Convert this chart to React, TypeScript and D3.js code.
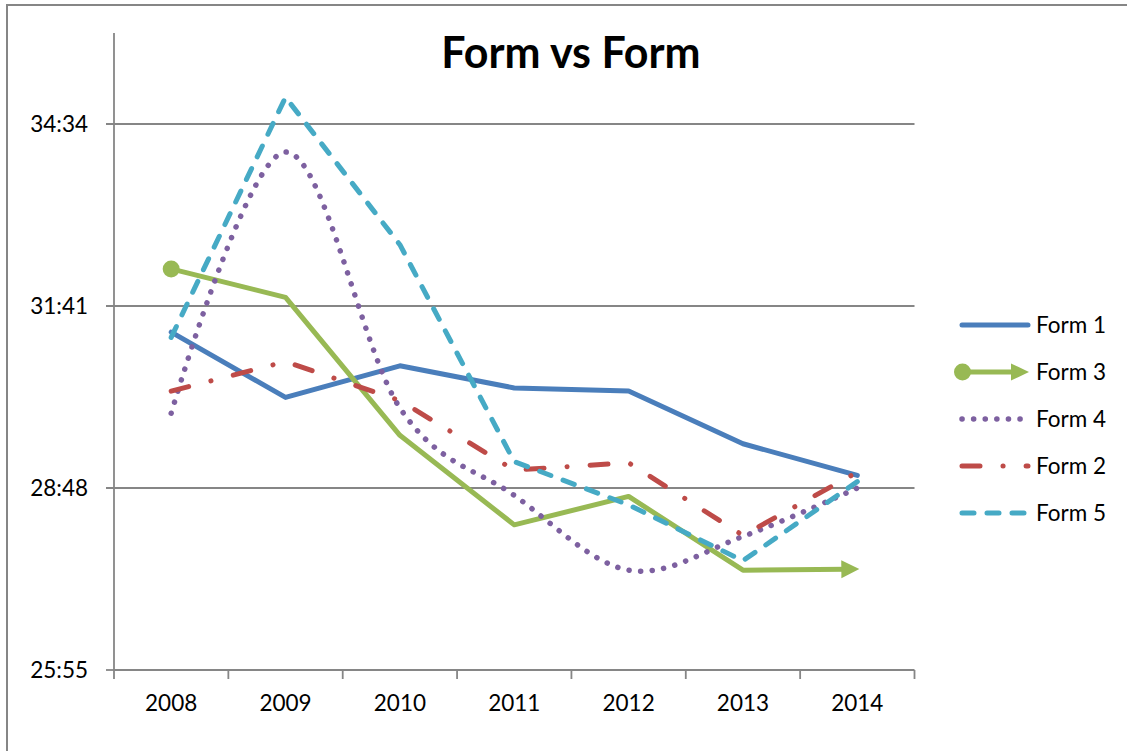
import * as d3 from 'd3';
import React, { useEffect, useRef } from 'react';

const years = ['2008', '2009', '2010', '2011', '2012', '2013', '2014'];

// finishing times (mm:ss)
const form1 = ['31:16', '30:14', '30:44', '30:23', '30:20', '29:30', '29:00'];
const form3 = ['32:16', '31:49', '29:38', '28:13', '28:40', '27:30', '27:31'];
const form4 = ['29:59', '34:07', '30:04', '28:41', '27:30', '28:02', '28:48'];
const form2 = ['30:20', '30:48', '30:11', '29:05', '29:12', '28:03', '29:03'];
const form5 = ['31:11', '34:59', '32:39', '29:13', '28:32', '27:39', '28:54'];

const seriesNames = ['Form 1', 'Form 3', 'Form 4', 'Form 2', 'Form 5'];
const seriesData = [form1, form3, form4, form2, form5];
const seriesColors = ['#4A7EBB', '#98B954', '#7D60A0', '#BE4B48', '#46AAC5'];
const seriesDash = ['', '', '0.1 11.5', '18 23 0.1 23', '12 13'];

// y axis in days (excel time), major unit 0.002
const yTickDays = [0.018, 0.02, 0.022, 0.024];
const yMaxDays = 0.025;

const toSec = (s: string) => {
    const [m, ss] = s.split(':').map(Number);
    return m * 60 + ss;
};
const fmt = (sec: number) => {
    const r = Math.round(sec);
    return `${Math.floor(r / 60)}:${String(r % 60).padStart(2, '0')}`;
};

const FONT = 'Lato, "Open Sans", sans-serif';

const Chart = () => {
    const svgRef = useRef<SVGSVGElement>(null);

    useEffect(() => {
        const svg = d3.select(svgRef.current);
        svg.selectAll('*').remove(); // clear previous render

        const width = 1127;
        const height = 751;
        const left = 114, right = 914.5, top = 33, bottom = 670;
        const lw = 5;
        const axisColor = '#868686';

        const x = d3.scaleBand().domain(years).range([left, right]);
        const cx = (d: string) => (x(d) as number) + x.bandwidth() / 2;
        const y = d3.scaleLinear()
            .domain([yTickDays[0] * 86400, yMaxDays * 86400])
            .range([bottom, top]);

        svg.attr('width', width).attr('height', height);

        // outer chart border
        svg.append('rect')
            .attr('x', 7).attr('y', 5)
            .attr('width', width + 20).attr('height', height + 20)
            .attr('fill', 'white')
            .attr('stroke', axisColor)
            .attr('stroke-width', 2);

        svg.append('text')
            .attr('x', 571).attr('y', 68)
            .attr('text-anchor', 'middle')
            .style('font-family', FONT)
            .style('font-size', '43px')
            .style('font-weight', 'bold')
            .text('Form vs Form');

        // gridlines + y ticks
        const g = svg.append('g');
        yTickDays.forEach((t, i) => {
            const yy = y(t * 86400);
            g.append('line')
                .attr('x1', left - 8).attr('x2', i === 0 ? left : right)
                .attr('y1', yy).attr('y2', yy)
                .attr('stroke', axisColor).attr('stroke-width', 1.8);
            g.append('text')
                .attr('x', 88).attr('y', yy).attr('dy', '0.36em')
                .attr('text-anchor', 'end')
                .style('font-family', FONT).style('font-size', '22.5px')
                .text(fmt(t * 86400));
        });

        // axes
        g.append('line')
            .attr('x1', left).attr('x2', left).attr('y1', top).attr('y2', bottom)
            .attr('stroke', axisColor).attr('stroke-width', 1.8);
        g.append('line')
            .attr('x1', left).attr('x2', right).attr('y1', bottom).attr('y2', bottom)
            .attr('stroke', axisColor).attr('stroke-width', 1.8);
        d3.range(years.length + 1).forEach(i => {
            const xx = left + i * x.step();
            g.append('line')
                .attr('x1', xx).attr('x2', xx).attr('y1', bottom).attr('y2', bottom + 9)
                .attr('stroke', axisColor).attr('stroke-width', 1.8);
        });
        years.forEach(yr => {
            g.append('text')
                .attr('x', cx(yr)).attr('y', 711)
                .attr('text-anchor', 'middle')
                .style('font-family', FONT).style('font-size', '22.5px')
                .text(yr);
        });

        // series
        seriesData.forEach((vals, si) => {
            const pts: [number, number][] = vals.map((v, i) => [cx(years[i]), y(toSec(v))]);
            const color = seriesColors[si];
            let linePts = pts;

            if (si === 1) {
                // arrow at the end, circle at the start
                const P = pts[pts.length - 1];
                const Q = pts[pts.length - 2];
                const len = Math.hypot(P[0] - Q[0], P[1] - Q[1]);
                const ux = (P[0] - Q[0]) / len, uy = (P[1] - Q[1]) / len;
                const tip: [number, number] = [P[0] + ux * 2, P[1] + uy * 2];
                const base: [number, number] = [tip[0] - ux * 18, tip[1] - uy * 18];
                linePts = [...pts.slice(0, -1), [base[0] + ux * 4, base[1] + uy * 4]];
                svg.append('circle')
                    .attr('cx', pts[0][0]).attr('cy', pts[0][1]).attr('r', 8.5)
                    .attr('fill', color);
                svg.append('path')
                    .attr('d', `M${tip[0]},${tip[1]}L${base[0] - uy * 9},${base[1] + ux * 9}L${base[0] + uy * 9},${base[1] - ux * 9}Z`)
                    .attr('fill', color);
            }

            const line = d3.line()
                .curve(si === 2 ? d3.curveCardinal.tension(0) : d3.curveLinear);

            svg.insert('path', si === 1 ? 'circle' : null)
                .attr('d', line(linePts))
                .attr('fill', 'none')
                .attr('stroke', color)
                .attr('stroke-width', si === 2 ? 5.5 : lw)
                .attr('stroke-linecap', 'round')
                .attr('stroke-linejoin', 'round')
                .attr('stroke-dasharray', seriesDash[si] || null);
        });

        // legend
        const lg = svg.append('g');
        seriesNames.forEach((name, i) => {
            const ly = 325 + i * 47;
            const color = seriesColors[i];
            if (i === 1) {
                lg.append('line')
                    .attr('x1', 962).attr('x2', 1014).attr('y1', ly).attr('y2', ly)
                    .attr('stroke', color).attr('stroke-width', lw);
                lg.append('circle').attr('cx', 962.5).attr('cy', ly).attr('r', 8.5).attr('fill', color);
                lg.append('path')
                    .attr('d', `M1029,${ly}L1011,${ly - 8.5}L1011,${ly + 8.5}Z`)
                    .attr('fill', color);
            } else {
                lg.append('line')
                    .attr('x1', 962).attr('x2', 1028).attr('y1', ly).attr('y2', ly)
                    .attr('stroke', color).attr('stroke-width', i === 2 ? 5.5 : lw)
                    .attr('stroke-linecap', 'round')
                    .attr('stroke-dasharray', seriesDash[i] || null);
            }
            lg.append('text')
                .attr('x', 1036).attr('y', ly).attr('dy', '0.36em')
                .style('font-family', FONT).style('font-size', '22.5px')
                .text(name);
        });
    }, []);

    return (
        <svg ref={svgRef} style={{ position: 'absolute', left: 0, top: 0, background: 'white' }}></svg>
    );
};

export default function App() {
    return <Chart />;
}
